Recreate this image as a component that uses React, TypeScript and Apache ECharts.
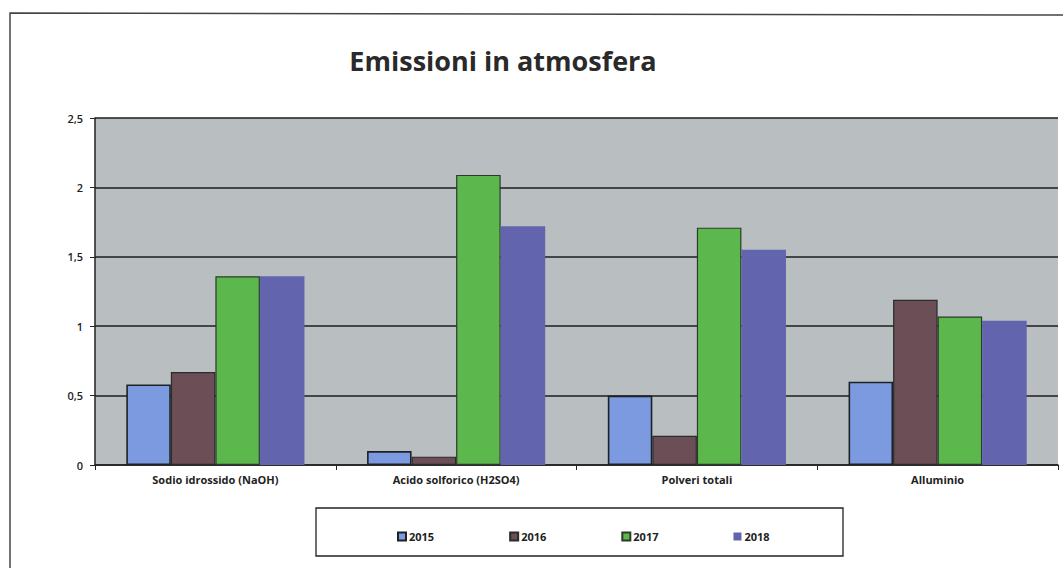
import React, { useEffect, useRef } from "react";
import * as echarts from "echarts";

const categories = ["Sodio idrossido (NaOH)", "Acido solforico (H2SO4)", "Polveri totali", "Alluminio"];
const years = ["2015", "2016", "2017", "2018"];
const values2015 = [0.58, 0.1, 0.5, 0.6];
const values2016 = [0.67, 0.06, 0.21, 1.19];
const values2017 = [1.36, 2.09, 1.71, 1.07];
const values2018 = [1.36, 1.72, 1.55, 1.04];
const yTicks = [0, 0.5, 1, 1.5, 2, 2.5];

const colors = ["#7b9ae0", "#6b4e56", "#5cb84c", "#6264ad"];
const borders = [
  { c: "#1e2226", w: 1.6 },
  { c: "#2b2b2b", w: 1.2 },
  { c: "#2b3a2b", w: 1.2 },
  { c: "#6264ad", w: 0 },
];

export default function App() {
  const ref = useRef<HTMLDivElement>(null);
  useEffect(() => {
    if (!ref.current) return;
    const chart = echarts.init(ref.current, undefined, { renderer: "svg" });
    const seriesData = [values2015, values2016, values2017, values2018];
    const font = "'Open Sans', 'Noto Sans', sans-serif";
    chart.setOption({
      animation: false,
      backgroundColor: "#ffffff",
      textStyle: { fontFamily: font },
      title: {
        text: "Emissioni in atmosfera",
        left: 498,
        top: 42,
        textAlign: "center",
        textStyle: { fontFamily: font, fontSize: 27, fontWeight: "bold", color: "#2a2a2a" },
      },
      graphic: [
        {
          type: "polyline",
          shape: { points: [[10, 568], [10, 13], [1063, 15]] },
          style: { stroke: "#444", lineWidth: 1.5, fill: "none" },
          z: 0,
        },
        {
          type: "rect",
          shape: { x: 316, y: 508, width: 527, height: 48 },
          style: { stroke: "#222", lineWidth: 1.3, fill: "#ffffff" },
          z: 0,
        },
      ],
      legend: {
        data: years,
        left: 392,
        top: 526,
        itemWidth: 8,
        itemHeight: 8,
        itemGap: 75,
        icon: "rect",
        textStyle: { fontFamily: font, fontSize: 11, fontWeight: "bold", color: "#222", padding: [0, 0, 0, -2] },
        z: 5,
      },
      grid: { left: 95, right: 5, top: 118, height: 347, containLabel: false, show: true, backgroundColor: "#b9bfc1", borderWidth: 0 },
      xAxis: {
        type: "category",
        data: categories,
        axisLine: { show: true, lineStyle: { color: "#222", width: 1.5 } },
        axisTick: { show: true, alignWithLabel: false, length: 5, lineStyle: { color: "#222" } },
        axisLabel: { fontFamily: font, fontSize: 11, fontWeight: "bold", color: "#222", margin: 9 },
        splitLine: { show: false },
      },
      yAxis: {
        type: "value",
        min: 0,
        max: 2.5,
        interval: 0.5,
        axisLine: { show: true, lineStyle: { color: "#222", width: 1.5 } },
        axisTick: { show: true, length: 5, lineStyle: { color: "#222" } },
        axisLabel: {
          fontFamily: font,
          fontSize: 11,
          fontWeight: 600,
          color: "#222",
          margin: 12,
          formatter: (v: number) => (yTicks.includes(v) ? String(v).replace(".", ",") : ""),
        },
        splitLine: { show: true, lineStyle: { color: "#1c1c1c", width: 1.5 } },
      },
      series: years.map((y, i) => ({
        name: y,
        type: "bar",
        data: seriesData[i],
        barGap: "0%",
        barCategoryGap: "26%",
        itemStyle: { color: colors[i], borderColor: borders[i].c, borderWidth: borders[i].w },
      })),
    });
    return () => chart.dispose();
  }, []);
  return <div ref={ref} style={{ position: "absolute", left: 0, top: 0, width: 1063, height: 568 }} />;
}
